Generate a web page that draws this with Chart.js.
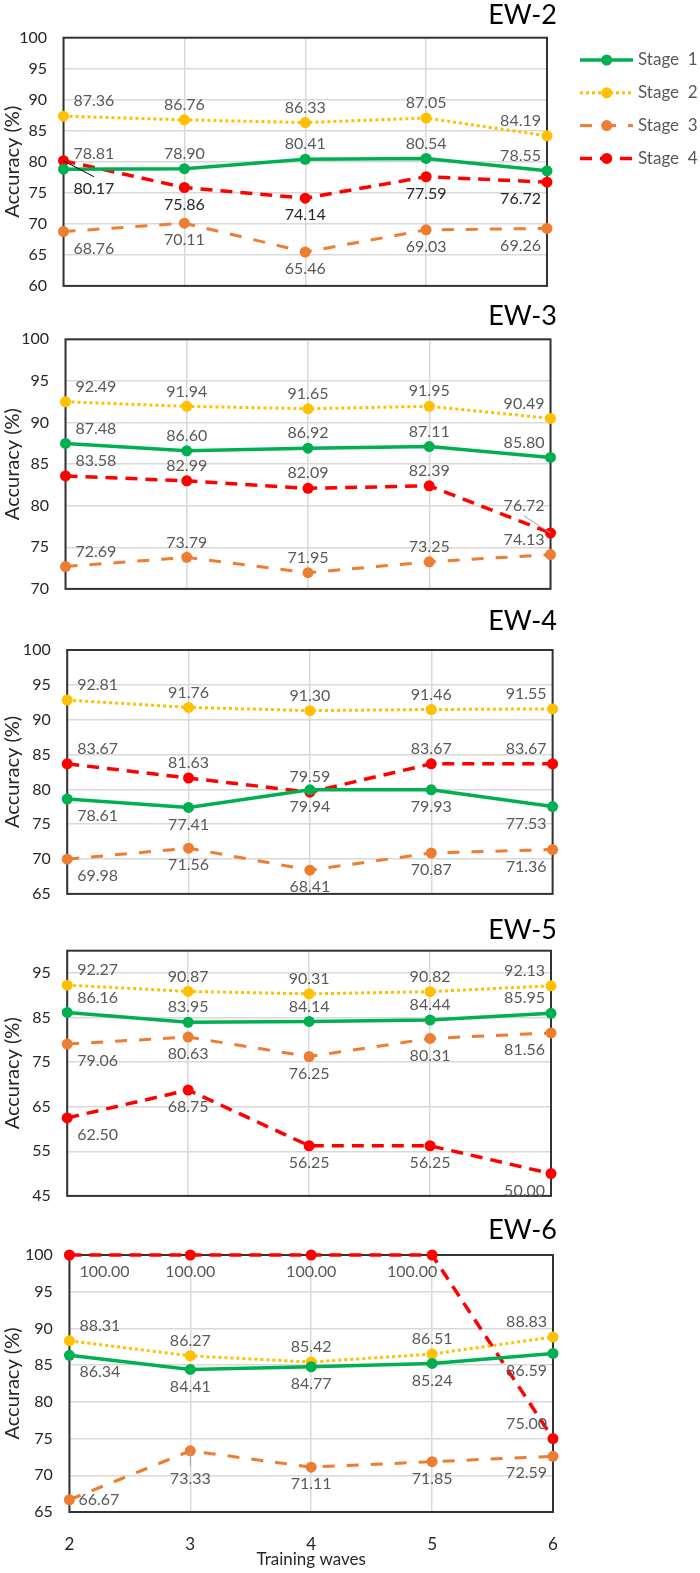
<!DOCTYPE html>
<html>
<head>
<meta charset="utf-8">
<script src="https://cdn.jsdelivr.net/npm/chart.js@4.4.1/dist/chart.umd.min.js"></script>
<style>
  html, body { margin: 0; padding: 0; background: #fff; }
  #wrap { position: relative; width: 700px; height: 1573px; overflow: hidden; }
  #wrap canvas { position: absolute; left: 0; }
</style>
</head>
<body>
<div id="wrap"></div>
<script>
// ---- data ----
const waves = ['2', '3', '4', '5', '6'];
const stageNames = ['Stage  1', 'Stage  2', 'Stage  3', 'Stage  4'];
const panelNames = ['EW-2', 'EW-3', 'EW-4', 'EW-5', 'EW-6'];

// each panel: [Stage 1, Stage 2, Stage 3, Stage 4]
const ew2 = [
  [78.81, 78.90, 80.41, 80.54, 78.55],
  [87.36, 86.76, 86.33, 87.05, 84.19],
  [68.76, 70.11, 65.46, 69.03, 69.26],
  [80.17, 75.86, 74.14, 77.59, 76.72],
];
const ew3 = [
  [87.48, 86.60, 86.92, 87.11, 85.80],
  [92.49, 91.94, 91.65, 91.95, 90.49],
  [72.69, 73.79, 71.95, 73.25, 74.13],
  [83.58, 82.99, 82.09, 82.39, 76.72],
];
const ew4 = [
  [78.61, 77.41, 79.94, 79.93, 77.53],
  [92.81, 91.76, 91.30, 91.46, 91.55],
  [69.98, 71.56, 68.41, 70.87, 71.36],
  [83.67, 81.63, 79.59, 83.67, 83.67],
];
const ew5 = [
  [86.16, 83.95, 84.14, 84.44, 85.95],
  [92.27, 90.87, 90.31, 90.82, 92.13],
  [79.06, 80.63, 76.25, 80.31, 81.56],
  [62.50, 68.75, 56.25, 56.25, 50.00],
];
const ew6 = [
  [86.34, 84.41, 84.77, 85.24, 86.59],
  [88.31, 86.27, 85.42, 86.51, 88.83],
  [66.67, 73.33, 71.11, 71.85, 72.59],
  [100.00, 100.00, 100.00, 100.00, 75.00],
];

const ew2Ticks = [60, 65, 70, 75, 80, 85, 90, 95, 100];
const ew3Ticks = [70, 75, 80, 85, 90, 95, 100];
const ew4Ticks = [65, 70, 75, 80, 85, 90, 95, 100];
const ew5Ticks = [45, 55, 65, 75, 85, 95];
const ew6Ticks = [65, 70, 75, 80, 85, 90, 95, 100];

// label placement: a = above, b = below, A/B = far, with leader, r = right, L = below-left
const ew2Place = ['aaaaa', 'aaaaa', 'bbbbb', 'Bbbbb'];
const ew3Place = ['aaaaa', 'aaaaa', 'aaaaa', 'aaaaA'];
const ew4Place = ['bbbbb', 'aaaaa', 'bbbbb', 'aaaaa'];
const ew5Place = ['aaaaa', 'aaaaa', 'bbbbb', 'bbbbb'];
const ew6Place = ['bbbbb', 'aaaaa', 'rBbbb', 'bbbLa'];

// ---- styles ----
const stageStyle = [
  { color: '#00B050', width: 3.5, dash: [] },
  { color: '#FFC000', width: 3, dash: [3, 3] },
  { color: '#ED7D31', width: 3, dash: [12, 12] },
  { color: '#FF0000', width: 3.5, dash: [12, 8] },
];
const GRID = '#D9D9D9';
const TEXT = '#262626';
const LABEL = '#595959';

// box = canvas top/bottom, area = plot left/right/top/bottom (page coords)
const panels = [
  { name: panelNames[0], data: ew2, ticks: ew2Ticks, place: ew2Place, box: [0, 312],     area: [63.5, 547, 37.7, 293.3],  titleY: 15,    dark: [3] },
  { name: panelNames[1], data: ew3, ticks: ew3Ticks, place: ew3Place, box: [296, 615],   area: [65.5, 550.5, 339.3, 596], titleY: 316.7, dark: [] },
  { name: panelNames[2], data: ew4, ticks: ew4Ticks, place: ew4Place, box: [600, 920],   area: [67.2, 552.6, 650, 905],   titleY: 621.7, dark: [] },
  { name: panelNames[3], data: ew5, ticks: ew5Ticks, place: ew5Place, box: [908, 1222],  area: [67.2, 551, 950.7, 1206.7], titleY: 930, dark: [], max: 100 },
  { name: panelNames[4], data: ew6, ticks: ew6Ticks, place: ew6Place, box: [1208, 1573], area: [69.4, 553, 1255, 1512],   titleY: 1230,  dark: [] },
];

Chart.defaults.font.family = 'Lato, "Open Sans", sans-serif';

const frame = {
  id: 'frame',
  beforeDatasetsDraw(chart) {
    const { ctx, chartArea: a } = chart;
    ctx.save();
    ctx.strokeStyle = '#333';
    ctx.lineWidth = 2;
    ctx.strokeRect(a.left, a.top, a.right - a.left, a.bottom - a.top);
    ctx.restore();
  },
};

const dataLabels = {
  id: 'dataLabels',
  afterDatasetsDraw(chart, args, opts) {
    const { ctx } = chart;
    ctx.save();
    ctx.font = '16px Lato';
    ctx.textBaseline = 'middle';
    chart.data.datasets.forEach((ds, di) => {
      const meta = chart.getDatasetMeta(di);
      const codes = opts.place[di];
      const color = opts.dark.includes(di) ? TEXT : LABEL;
      meta.data.forEach((pt, i) => {
        const c = codes[i];
        const txt = ds.data[i].toFixed(2);
        const w = ctx.measureText(txt).width;
        let x = pt.x, y = pt.y, cx;
        if (c === 'r') {
          x += 9;
          cx = x + w / 2;
        } else {
          if (i === 0) { x += 10; cx = x + w / 2; }
          else if (i === ds.data.length - 1) { x -= 6; cx = x - w / 2; }
          else { cx = x; }
          if (c === 'L') cx -= 20;
          y += { a: -15, b: 17, L: 17, A: -27, B: 28 }[c];
        }
        if (c === 'A' || c === 'B') {
          ctx.strokeStyle = opts.dark.includes(di) ? '#000' : '#A6A6A6';
          ctx.lineWidth = 1;
          ctx.beginPath();
          ctx.moveTo(pt.x, pt.y);
          ctx.lineTo(cx, c === 'B' ? y - 12 : y + 10);
          ctx.stroke();
        }
        ctx.fillStyle = color;
        ctx.textAlign = 'center';
        ctx.fillText(txt, cx, y);
      });
    });
    ctx.restore();
  },
};

const panelTitle = {
  id: 'panelTitle',
  afterDraw(chart, args, opts) {
    const { ctx } = chart;
    ctx.save();
    ctx.font = '27px Lato';
    ctx.fillStyle = '#000';
    ctx.textAlign = 'right';
    ctx.textBaseline = 'middle';
    ctx.fillText(opts.text, 557, opts.y);
    ctx.restore();
  },
};

const sideLegend = {
  id: 'sideLegend',
  afterDraw(chart, args, opts) {
    if (!opts.show) return;
    const { ctx } = chart;
    ctx.save();
    chart.data.datasets.forEach((ds, k) => {
      const y = 60 + k * 32.8;
      ctx.strokeStyle = ds.borderColor;
      ctx.lineWidth = ds.borderWidth;
      ctx.setLineDash(ds.borderDash);
      ctx.beginPath();
      ctx.moveTo(580, y);
      ctx.lineTo(633, y);
      ctx.stroke();
      ctx.setLineDash([]);
      ctx.fillStyle = ds.borderColor;
      ctx.beginPath();
      ctx.arc(606.7, y, 5.5, 0, Math.PI * 2);
      ctx.fill();
      ctx.fillStyle = LABEL;
      ctx.font = '17px Lato';
      ctx.textAlign = 'left';
      ctx.textBaseline = 'middle';
      ctx.fillText(ds.label, 638, y);
    });
    ctx.restore();
  },
};

const wrap = document.getElementById('wrap');

panels.forEach((p, idx) => {
  const last = idx === panels.length - 1;
  const [boxTop, boxBottom] = p.box;
  const [L, R, T, B] = p.area;
  const xh = last ? boxBottom - B : 0;

  const canvas = document.createElement('canvas');
  canvas.width = 700;
  canvas.height = boxBottom - boxTop;
  canvas.style.top = boxTop + 'px';
  wrap.appendChild(canvas);

  new Chart(canvas, {
    type: 'line',
    data: {
      labels: waves,
      datasets: p.data.map((vals, k) => ({
        label: stageNames[k],
        data: vals,
        borderColor: stageStyle[k].color,
        backgroundColor: stageStyle[k].color,
        borderWidth: stageStyle[k].width,
        borderDash: stageStyle[k].dash,
        pointRadius: 5.5,
        pointBorderWidth: 0,
        pointBackgroundColor: stageStyle[k].color,
        tension: 0,
        clip: false,
      })),
    },
    options: {
      responsive: false,
      animation: false,
      events: [],
      layout: { padding: { left: 0, right: 700 - R, top: T - boxTop, bottom: boxBottom - B - xh } },
      plugins: {
        legend: { display: false },
        tooltip: { enabled: false },
        dataLabels: { place: p.place, dark: p.dark },
        panelTitle: { text: p.name, y: p.titleY - boxTop },
        sideLegend: { show: idx === 0 },
      },
      scales: {
        x: {
          offset: false,
          grid: { color: GRID, lineWidth: 1.5, drawTicks: false },
          border: { display: false },
          ticks: { display: last, padding: 22, color: TEXT, font: { size: 17 } },
          title: { display: last, text: 'Training waves', color: TEXT, font: { size: 17 }, padding: { top: 0, bottom: 3 } },
          afterFit: s => { s.height = xh; },
        },
        y: {
          min: p.ticks[0],
          max: p.max || p.ticks[p.ticks.length - 1],
          afterBuildTicks: s => { s.ticks = p.ticks.map(v => ({ value: v })); },
          grid: { color: GRID, lineWidth: 1.5, drawTicks: false },
          border: { display: false },
          ticks: { padding: 16.5, color: TEXT, font: { size: 16 } },
          title: { display: true, text: 'Accuracy (%)', color: TEXT, font: { size: 20 }, padding: { top: 1, bottom: 0 } },
          afterFit: s => { s.width = L; },
        },
      },
    },
    plugins: [frame, dataLabels, panelTitle, sideLegend],
  });
});
</script>
</body>
</html>
